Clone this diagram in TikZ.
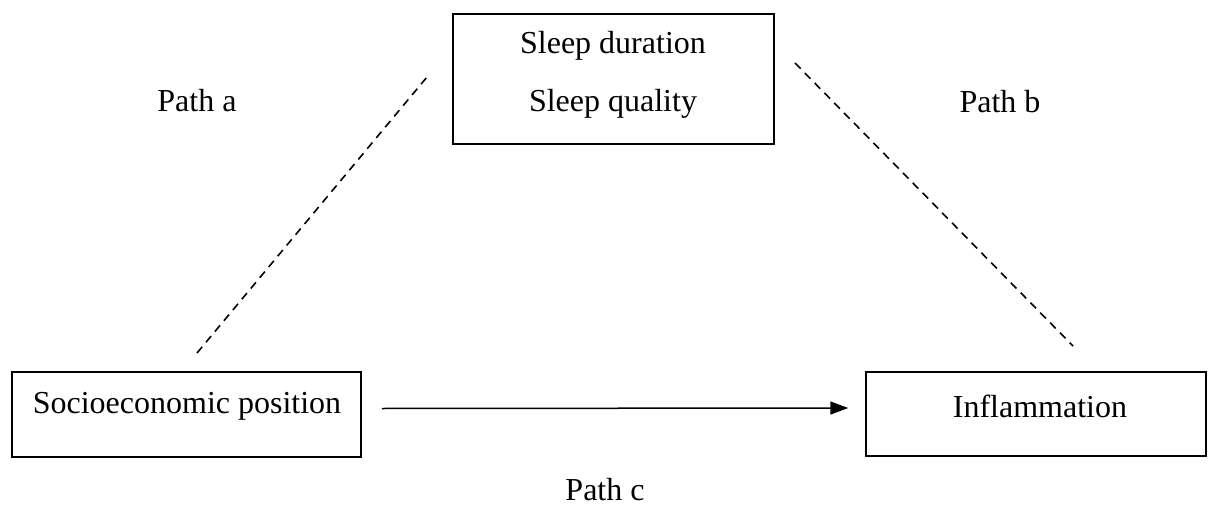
\documentclass[tikz,border=0pt]{standalone}
\usepackage{fontspec}
\setmainfont{Liberation Serif}
\usetikzlibrary{arrows.meta,calc}
\begin{document}
\begin{tikzpicture}[x=1pt,y=-1pt,
  box/.style={draw,line width=1.5pt,inner sep=0pt},
  lbl/.style={inner sep=0pt,font=\fontsize{32}{38}\selectfont},
  dashline/.style={line width=1.6pt,dash pattern=on 8pt off 6pt},
  arr/.style={line width=1.5pt,-{Triangle[length=18pt,width=13pt]}}]
\useasboundingbox (0,0) rectangle (1210,524);
% boxes
\node[box,minimum width=321pt,minimum height=130pt] (sleep) at (613.5,79) {};
\node[box,minimum width=349pt,minimum height=85pt] (sep) at (186.5,414.5) {};
\node[box,minimum width=340pt,minimum height=84pt] (infl) at (1036,414) {};
% box texts
\node[lbl] (t1) at (613,46) {Sleep duration};
\node[lbl] (t2) at (613,104) {Sleep quality};
\node[lbl] (t3) at (187,406) {Socioeconomic position};
\node[lbl] (t4) at (1040,406) {Inflammation};
% path labels
\node[lbl] (pa) at (197,101) {Path a};
\node[lbl] (pb) at (1000,102) {Path b};
\node[lbl] (pc) at (605,490) {Path c};
% dashed connectors
\coordinate (a1) at (197,353);
\coordinate (a2) at (427,77);
\coordinate (b1) at (795,63);
\coordinate (b2) at (1073,346);
\draw[dashline] (a1) -- (a2);
\draw[dashline] (b1) -- (b2);
% arrow
\draw[arr] ($(sep.east)+(20,-6)$) -- ($(infl.west)+(-17,-6)$);
\end{tikzpicture}
\end{document}
